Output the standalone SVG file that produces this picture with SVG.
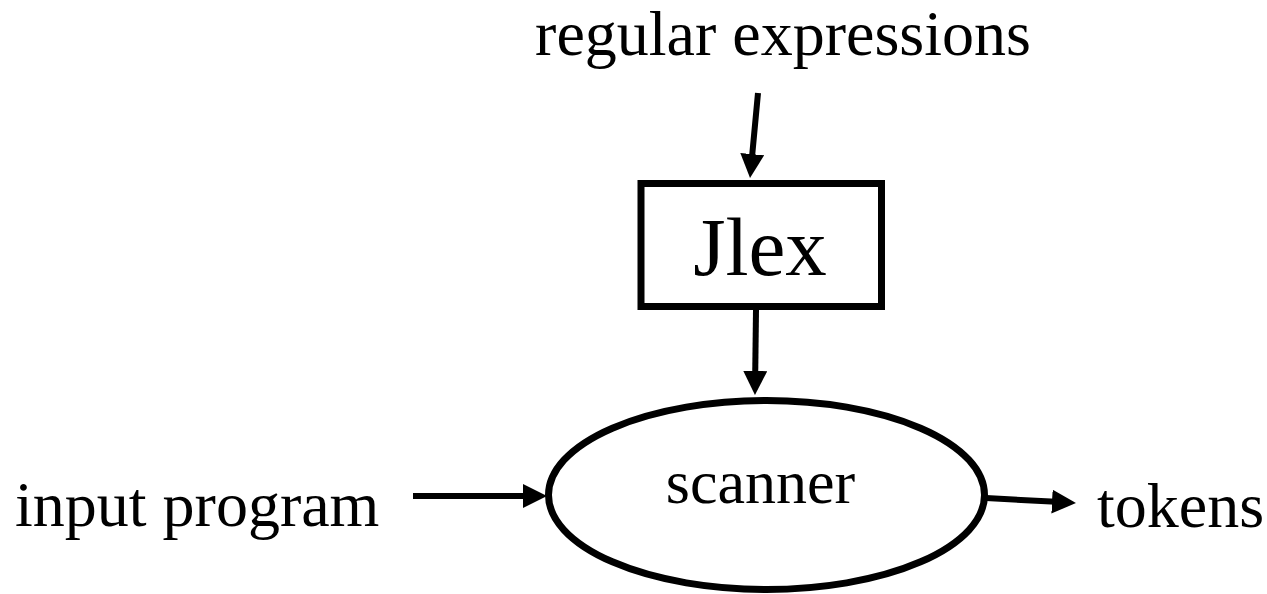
<svg xmlns="http://www.w3.org/2000/svg" width="1267" height="594" viewBox="0 0 1267 594">
  <style>
    .lbl { font-family: "Liberation Serif", "Times New Roman", serif; fill: #000; }
    .node { fill: #fff; stroke: #000; stroke-width: 7; }
    .conn { stroke: #000; stroke-width: 6; fill: none; }
  </style>
  <defs>
    <marker id="arrow" markerUnits="userSpaceOnUse" markerWidth="24" markerHeight="24" viewBox="0 0 24 24" refX="4" refY="12" orient="auto">
      <path d="M0,0 L24,12 L0,24 z" fill="#000"/>
    </marker>
  </defs>
  <rect width="1267" height="594" fill="#fff"/>
  <g id="label-regex">
    <text class="lbl" x="783" y="55" font-size="64" text-anchor="middle">regular expressions</text>
  </g>
  <g id="node-jlex">
    <rect class="node" x="641" y="183.5" width="240.5" height="123"/>
    <text class="lbl" x="760" y="275" font-size="83" text-anchor="middle">Jlex</text>
  </g>
  <g id="node-scanner">
    <ellipse class="node" cx="766.5" cy="495" rx="218" ry="94.5"/>
    <text class="lbl" x="760.5" y="503" font-size="62" text-anchor="middle">scanner</text>
  </g>
  <g id="label-input">
    <text class="lbl" x="15" y="526" font-size="64">input program</text>
  </g>
  <g id="label-tokens">
    <text class="lbl" x="1097" y="527" font-size="64">tokens</text>
  </g>
  <g id="connectors">
    <line class="conn" x1="758" y1="93" x2="751.9" y2="158.1" marker-end="url(#arrow)"/>
    <line class="conn" x1="756" y1="310" x2="755.2" y2="375" marker-end="url(#arrow)"/>
    <line class="conn" x1="413" y1="496" x2="527" y2="496" marker-end="url(#arrow)"/>
    <line class="conn" x1="986" y1="498" x2="1056" y2="501.85" marker-end="url(#arrow)"/>
  </g>
</svg>
